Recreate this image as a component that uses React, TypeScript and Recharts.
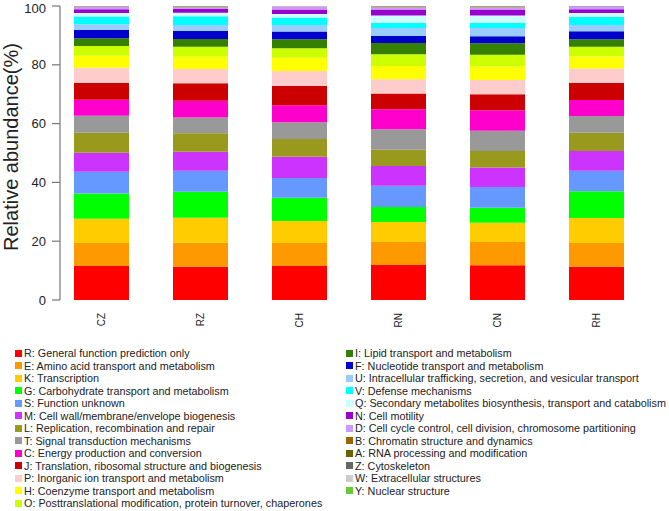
import React from 'react';
import { BarChart, Bar, XAxis, YAxis } from 'recharts';

// Samples (x categories)
const samples = ['CZ', 'RZ', 'CH', 'RN', 'CN', 'RH'];

// COG categories, stacked bottom -> top
const cogCodes = ['R', 'E', 'K', 'G', 'S', 'M', 'L', 'T', 'C', 'J', 'P', 'H', 'O', 'I', 'F', 'U', 'V', 'Q', 'N', 'D', 'B', 'A', 'Z', 'W', 'Y'];

const cogNames = [
  'General function prediction only',
  'Amino acid transport and metabolism',
  'Transcription',
  'Carbohydrate transport and metabolism',
  'Function unknown',
  'Cell wall/membrane/envelope biogenesis',
  'Replication, recombination and repair',
  'Signal transduction mechanisms',
  'Energy production and conversion',
  'Translation, ribosomal structure and biogenesis',
  'Inorganic ion transport and metabolism',
  'Coenzyme transport and metabolism',
  'Posttranslational modification, protein turnover, chaperones',
  'Lipid transport and metabolism',
  'Nucleotide transport and metabolism',
  'Intracellular trafficking, secretion, and vesicular transport',
  'Defense mechanisms',
  'Secondary metabolites biosynthesis, transport and catabolism',
  'Cell motility',
  'Cell cycle control, cell division, chromosome partitioning',
  'Chromatin structure and dynamics',
  'RNA processing and modification',
  'Cytoskeleton',
  'Extracellular structures',
  'Nuclear structure',
];

const cogColors = [
  '#FF0000', '#FF9900', '#FFCC00', '#00FF00', '#6699FF', '#CC33FF', '#99991E', '#999999',
  '#FF00CC', '#CC0000', '#FFCCCC', '#FFFF00', '#CCFF00', '#358000', '#0000CC', '#99CCFF',
  '#00FFFF', '#CCFFFF', '#9900CC', '#CC99FF', '#996600', '#666600', '#666666', '#CCCCCC', '#66CC33',
];

// Relative abundance (%) per COG category, in sample order CZ, RZ, CH, RN, CN, RH
const R = [11.6, 11.3, 11.6, 11.9, 11.8, 11.3];
const E = [7.8, 8.2, 7.8, 7.8, 7.9, 8.1];
const K = [8.2, 8.5, 7.5, 6.8, 6.6, 8.5];
const G = [8.6, 8.8, 7.9, 5.1, 5.1, 9.1];
const S = [7.4, 7.2, 6.7, 7.3, 7.0, 7.0];
const M = [6.5, 6.4, 7.2, 6.7, 6.7, 6.7];
const L = [6.8, 6.3, 6.1, 5.5, 5.6, 6.2];
const T = [5.8, 5.4, 5.7, 7.0, 6.9, 5.7];
const C = [5.4, 5.7, 5.7, 6.8, 6.9, 5.4];
const J = [5.8, 5.9, 6.6, 5.3, 5.5, 5.8];
const P = [5.1, 4.9, 5.1, 4.9, 4.8, 4.9];
const H = [4.1, 4.1, 4.5, 4.5, 4.6, 4.1];
const O = [3.3, 3.4, 3.2, 4.0, 4.0, 3.3];
const I = [2.6, 2.7, 3.1, 3.8, 3.9, 2.6];
const F = [2.8, 2.8, 2.6, 2.4, 2.4, 2.7];
const U = [2.0, 1.9, 2.2, 2.7, 2.8, 2.1];
const V = [2.6, 3.0, 2.6, 1.8, 1.8, 2.8];
const Q = [1.2, 1.2, 1.2, 2.5, 2.5, 1.3];
const N = [1.3, 1.3, 1.5, 2.05, 2.05, 1.3];
const D = [0.8, 0.6, 1.0, 0.7, 0.7, 1.0];
const B = [0.1, 0.15, 0.08, 0.2, 0.2, 0.04];
const A = [0.06, 0.1, 0.04, 0.1, 0.1, 0.02];
const Z = [0.04, 0.05, 0.03, 0.05, 0.05, 0.02];
const W = [0.06, 0.05, 0.03, 0.05, 0.05, 0.01];
const Y = [0.04, 0.05, 0.02, 0.05, 0.05, 0.01];

const yTicks = [0, 20, 40, 60, 80, 100];

const seriesValues: Record<string, number[]> = { R, E, K, G, S, M, L, T, C, J, P, H, O, I, F, U, V, Q, N, D, B, A, Z, W, Y };

const data = samples.map((s, i) => {
  const row: Record<string, string | number> = { sample: s };
  cogCodes.forEach((c) => {
    row[c] = seriesValues[c][i];
  });
  return row;
});

const FONT = '"Liberation Sans", Arial, Helvetica, sans-serif';

const XTick = (props: any) => {
  const { x, y, payload } = props;
  return (
    <text
      x={x}
      y={y}
      transform={`rotate(-90, ${x}, ${y})`}
      textAnchor="end"
      dominantBaseline="central"
      fontSize={10}
      fontFamily={FONT}
      fill="#222"
    >
      {payload.value}
    </text>
  );
};

const YTitle = (props: any) => {
  const { viewBox } = props;
  const cx = viewBox.x + 11;
  const cy = viewBox.y + viewBox.height / 2 - 6;
  return (
    <text
      x={cx}
      y={cy}
      transform={`rotate(-90, ${cx}, ${cy})`}
      textAnchor="middle"
      dominantBaseline="central"
      fontSize={20}
      fontFamily={FONT}
      fill="#222"
    >
      Relative abundance(%)
    </text>
  );
};

export default function App() {
  const leftCount = 13;
  return (
    <div
      style={{
        position: 'absolute',
        left: 0,
        top: 0,
        width: 669,
        height: 511,
        background: '#fff',
        fontFamily: FONT,
        overflow: 'hidden',
      }}
    >
      <BarChart width={669} height={340} data={data} margin={{ top: 6, right: 23, bottom: 0, left: 0 }}>
        <XAxis
          dataKey="sample"
          axisLine={false}
          tickLine={false}
          tickSize={0}
          tickMargin={13}
          height={40}
          interval={0}
          padding={{ left: -8, right: 0 }}
          tick={<XTick />}
        />
        <YAxis
          type="number"
          domain={[0, 100]}
          ticks={yTicks}
          width={60}
          tickSize={8}
          tickMargin={6}
          axisLine={{ stroke: '#777', strokeWidth: 1.2 }}
          tickLine={{ stroke: '#777', strokeWidth: 1.2 }}
          tick={{ fontSize: 13, fill: '#222', fontFamily: FONT }}
          label={<YTitle />}
        />
        {cogCodes.map((c, i) => (
          <Bar key={c} dataKey={c} stackId="cog" fill={cogColors[i]} barSize={55} isAnimationActive={false} />
        ))}
      </BarChart>
      {cogCodes.map((c, i) => {
        const col = i < leftCount ? 0 : 1;
        const row = col === 0 ? i : i - leftCount;
        return (
          <div
            key={c}
            style={{
              position: 'absolute',
              left: col === 0 ? 15 : 346,
              top: 347 + row * 12.5,
              height: 12.5,
              display: 'flex',
              alignItems: 'center',
              fontSize: 10.8,
              color: '#222',
              whiteSpace: 'nowrap',
            }}
          >
            <span style={{ display: 'inline-block', width: 7, height: 7, background: cogColors[i], marginRight: 2, flexShrink: 0 }} />
            <span>{`${c}: ${cogNames[i]}`}</span>
          </div>
        );
      })}
    </div>
  );
}
